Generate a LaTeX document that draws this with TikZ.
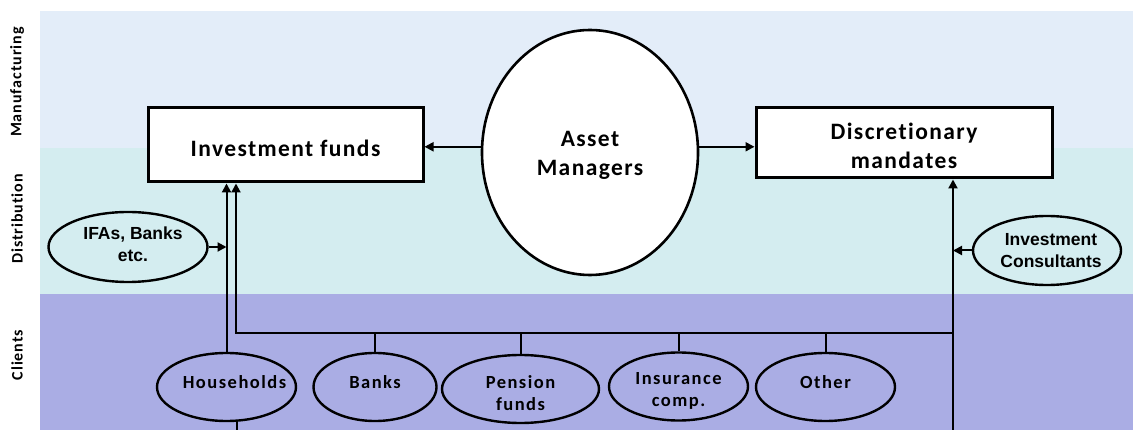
\documentclass[tikz,border=0pt]{standalone}
\usepackage{fontspec}
\usetikzlibrary{shapes.geometric,arrows.meta}
\newfontfamily\calb{Carlito}[LetterSpace=6,Ligatures=NoCommon]
\newfontfamily\calc{Carlito}[LetterSpace=8,Ligatures=NoCommon]
\newfontfamily\arb{Liberation Sans}
\definecolor{manuf}{RGB}{227,237,249}
\definecolor{distr}{RGB}{212,237,240}
\definecolor{clnt}{RGB}{170,173,228}
\tikzset{
  sidelabel/.style={rotate=90,font=\calb\bfseries\fontsize{16}{19}\selectfont},
  bigbox/.style={draw=black,line width=3pt,fill=white,inner sep=0pt},
  amell/.style={ellipse,draw=black,line width=2.6pt,fill=white,inner sep=0pt},
  clientell/.style={ellipse,draw=black,line width=2.4pt,inner sep=0pt,minimum height=68pt},
  distell/.style={ellipse,draw=black,line width=2.4pt,inner sep=0pt},
  bigtxt/.style={inner sep=0pt,align=center,font=\calb\bfseries\fontsize{23.5}{29}\selectfont},
  clitxt/.style={inner sep=0pt,align=center,font=\calc\bfseries\fontsize{18.5}{22}\selectfont},
  disttxt/.style={inner sep=0pt,align=center,font=\arb\bfseries\fontsize{17.5}{21.5}\selectfont},
  conn/.style={line width=2pt},
  arr/.style={line width=2pt,-{Triangle[length=9pt,width=9pt]}},
}
\begin{document}
\begin{tikzpicture}[x=1pt,y=-1pt]
\useasboundingbox (0,0) rectangle (1133,430);
% bands
\fill[manuf] (40,11) rectangle (1133,148);
\fill[distr] (40,148) rectangle (1133,294);
\fill[clnt] (40,294) rectangle (1133,430);
% side labels
\node[sidelabel] (lm) at (17,82) {Manufacturing};
\node[sidelabel] (ld) at (17,219) {Distribution};
\node[sidelabel] (lc) at (17,355) {Clients};
% main nodes
\node[bigbox,minimum width=275pt,minimum height=74pt,
  label={[bigtxt,yshift=-3pt]center:Investment funds}] (IF) at (285.5,145) {};
\node[bigbox,minimum width=296pt,minimum height=70pt,
  label={[bigtxt,yshift=-3pt]center:Discretionary\\mandates}] (DM) at (904,143) {};
\node[amell,minimum width=216pt,minimum height=245pt,
  label={[bigtxt,yshift=-3pt]center:Asset\\Managers}] (AM) at (590,152.5) {};
% distribution
\node[distell,minimum width=159pt,minimum height=70pt,
  label={[disttxt,xshift=5pt,yshift=3pt]center:IFAs, Banks\\etc.}] (IFA) at (128,247) {};
\node[distell,minimum width=148pt,minimum height=69pt,
  label={[disttxt,xshift=4pt]center:Investment\\Consultants}] (IC) at (1047,250.5) {};
% clients
\node[clientell,minimum width=139pt,
  label={[clitxt,xshift=8pt,yshift=5pt]center:Households}] (HH) at (226.5,387) {};
\node[clientell,minimum width=123pt,
  label={[clitxt,yshift=5pt]center:Banks}] (BK) at (375,387) {};
\node[clientell,minimum width=157pt,
  label={[clitxt,yshift=-4pt]center:Pension\\funds}] (PF) at (520.5,389) {};
\node[clientell,minimum width=139pt,
  label={[clitxt,yshift=-4pt]center:Insurance\\comp.}] (IN) at (678.5,386.5) {};
\node[clientell,minimum width=139pt,
  label={[clitxt,yshift=5pt]center:Other}] (OT) at (825.5,387) {};
% coordinates
\coordinate (busl) at (236,333);
\coordinate (busr) at (953,333);
\coordinate (rb) at (953,430);
\coordinate (hb) at (237,430);
% connectors
\draw[arr] (AM.177) -- (AM.177 -| IF.east);
\draw[arr] (AM.3) -- (AM.3 -| DM.west);
\draw[arr] (HH.north) -- (HH.north |- IF.south);
\draw[arr] (busr) -- (busl) -- (busl |- IF.south);
\draw[arr] (rb) -- (rb |- DM.south);
\draw[conn] (hb) -- (hb |- HH.south);
\draw[conn] (BK.north |- busl) -- (BK.north);
\draw[conn] (PF.north |- busl) -- (PF.north);
\draw[conn] (IN.north |- busl) -- (IN.north);
\draw[conn] (OT.north |- busl) -- (OT.north);
\draw[arr] (IFA.east) -- (IFA.east -| HH.north);
\draw[arr] (IC.west) -- (IC.west -| rb);
\end{tikzpicture}
\end{document}
